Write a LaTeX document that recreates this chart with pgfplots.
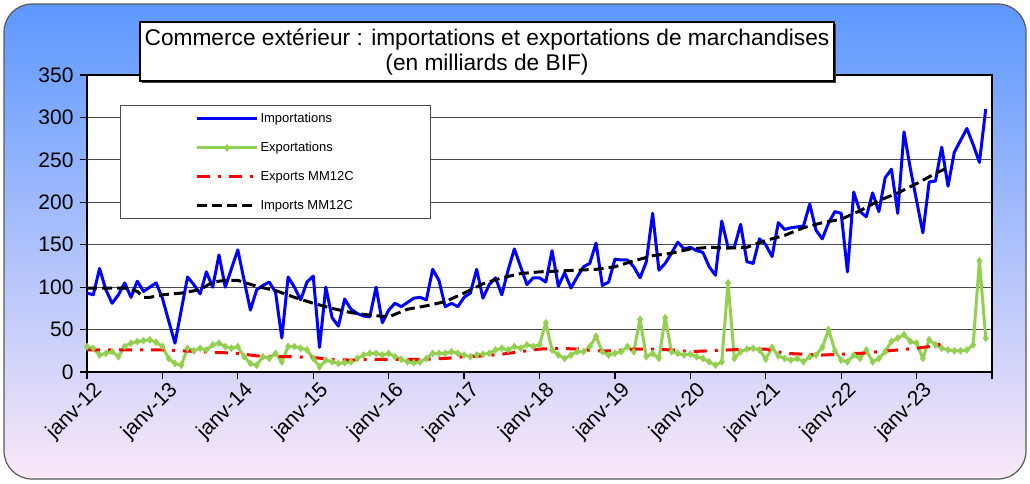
\documentclass[border=0pt]{standalone}
\usepackage{pgfplots}
\usepackage{pgfplotstable}
\pgfplotsset{compat=1.18}
\usepackage{fontspec}
\setmainfont{Liberation Sans}

\definecolor{impblue}{RGB}{0,0,255}
\definecolor{expgreen}{RGB}{146,208,80}
\definecolor{bgtop}{RGB}{92,152,255}
\definecolor{bgmid}{RGB}{175,200,245}
\definecolor{bgbot}{RGB}{250,232,248}

% monthly values, m = 0 is janv-12
\pgfplotstableread{
m imp exp
0 93 30
1 91 28
2 122 20
3 97 22
4 81 24
5 91 18
6 105 30
7 88 34
8 107 36
9 95 37
10 100 38
11 105 35
12 87 30
13 60 16
14 34 10
15 73 8
16 112 28
17 103 25
18 92 28
19 118 26
20 100 32
21 138 34
22 100 30
23 122 28
24 144 30
25 108 18
26 73 10
27 97 8
28 102 18
29 106 16
30 94 22
31 40 12
32 112 30
33 100 30
34 85 28
35 106 26
36 113 16
37 29 6
38 100 14
39 64 12
40 54 10
41 86 11
42 74 12
43 69 16
44 66 20
45 65 22
46 100 22
47 58 20
48 73 22
49 81 18
50 77 15
51 82 12
52 87 11
53 88 12
54 85 16
55 121 22
56 108 22
57 77 22
58 81 24
59 77 22
60 88 20
61 93 18
62 121 20
63 87 21
64 103 22
65 111 26
66 91 28
67 120 26
68 145 30
69 124 28
70 103 32
71 111 30
72 111 32
73 106 58
74 143 26
75 101 20
76 117 16
77 99 20
78 112 24
79 124 24
80 128 30
81 152 42
82 102 24
83 106 20
84 133 22
85 132 24
86 132 30
87 124 24
88 111 62
89 130 18
90 187 22
91 120 16
92 128 64
93 140 24
94 153 22
95 145 20
96 147 21
97 143 18
98 141 16
99 124 12
100 114 8
101 178 12
102 147 105
103 147 16
104 174 24
105 130 27
106 128 28
107 157 26
108 150 15
109 136 29
110 176 19
111 168 16
112 170 14
113 171 16
114 172 12
115 198 18
116 167 20
117 157 29
118 176 50
119 189 25
120 187 14
121 118 12
122 212 20
123 189 16
124 183 26
125 211 12
126 189 16
127 229 24
128 239 36
129 187 40
130 283 44
131 240 36
132 202 34
133 164 16
134 224 38
135 225 32
136 265 28
137 219 26
138 259 25
139 273 25
140 287 26
141 268 32
142 247 131
143 310 40
}\trade

% 12-month centred moving averages
\pgfplotstableread{
m impmm
0 99
3 99
6 99
8 95
9 88
10 88
12 91
15 93
18 97
20 106
22 108
24 108
27 101
30 96
33 88
36 81
39 75
42 70
45 67
48 65
51 74
54 78
57 83
60 93
63 104
66 111
69 116
72 118
75 119
78 120
81 121
84 124
87 131
90 137
93 140
96 145
99 147
102 146
105 147
108 155
111 161
114 170
117 176
120 180
123 190
126 202
129 211
132 222
135 234
137 241
}\impmm

\pgfplotstableread{
m expmm
0 26
3 26
6 26
9 26
12 26
15 25
18 24
21 23
24 22
27 19
30 18
33 18
36 17
39 15
42 14
45 15
48 15
51 15
54 15
57 16
60 18
63 19
66 21
69 24
72 27
75 28
78 27
81 25
84 25
87 27
90 27
93 26
96 24
99 25
102 26
105 27
108 27
111 22
114 21
117 20
120 21
123 22
126 24
129 26
132 28
135 31
137 36
}\expmm

\begin{document}
\begin{tikzpicture}[x=1pt,y=1pt]
\useasboundingbox (0,0) rectangle (1030,-483);
\shade[top color=bgtop, middle color=bgmid, bottom color=bgbot, rounded corners=28pt]
  (4,-4) rectangle (1026,-479);
\draw[black!65, line width=1.2pt, rounded corners=28pt] (4,-4) rectangle (1026,-479);

\begin{axis}[
  at={(87pt,-372pt)}, anchor=south west,
  width=905pt, height=297pt, scale only axis,
  xmin=0, xmax=144, ymin=0, ymax=350,
  axis background/.style={fill=white},
  axis line style={black, line width=1.6pt},
  tick style={black, line width=1.2pt},
  major tick length=7pt,
  tick align=outside,
  tick pos=left,
  ytick={0,50,...,350},
  ymajorgrids,
  major grid style={black!70, line width=1.2pt},
  xtick={0,12,...,144},
  xticklabels={janv-12,janv-13,janv-14,janv-15,janv-16,janv-17,janv-18,janv-19,janv-20,janv-21,janv-22,janv-23,{}},
  x tick label style={rotate=45, anchor=north east, xshift=6pt, yshift=-1pt,
    font=\fontsize{21}{21}\selectfont},
  y tick label style={xshift=-3pt, font=\fontsize{21}{21}\selectfont},
  /pgf/number format/assume math mode=true,
  legend style={at={(0.0365,0.899)}, anchor=north west, draw=black!70, line width=1pt,
    fill=white, font=\fontsize{13}{13}\selectfont, inner xsep=75pt, inner ysep=6pt,
    row sep=14pt, /tikz/every even column/.append style={column sep=5pt}},
  legend cell align=left,
  legend image code/.code={\draw[#1, mark repeat=2, mark phase=2]
    plot coordinates {(0pt,0pt) (30pt,0pt) (60pt,0pt)};},
]
\addplot[impblue, line width=3pt, line join=round] table[x=m, y=imp] {\trade};
\addlegendentry{Importations}
\addplot[expgreen, line width=3pt, line join=round, mark=diamond*, mark size=3.5pt,
  mark options={solid, fill=expgreen, draw=expgreen, line width=0.5pt}] table[x=m, y=exp] {\trade};
\addlegendentry{Exportations}
\addplot[red, line width=3pt, dash pattern=on 13pt off 8pt on 3pt off 8pt] table[x=m, y=expmm] {\expmm};
\addlegendentry{Exports MM12C}
\addplot[black, line width=3pt, dash pattern=on 10pt off 5pt] table[x=m, y=impmm] {\impmm};
\addlegendentry{Imports MM12C}
\end{axis}

\fill[black!75] (142,-24) rectangle (836,-83);
\node[draw=black, line width=1.4pt, fill=white, minimum width=694pt, minimum height=59pt,
  inner sep=0pt, align=center, font=\fontsize{22.7}{25}\selectfont] at (487,-51.5)
  {\raisebox{-3pt}{Commerce extérieur : importations et exportations de marchandises}\\
   \raisebox{-3pt}{(en milliards de BIF)}};
\end{tikzpicture}
\end{document}
